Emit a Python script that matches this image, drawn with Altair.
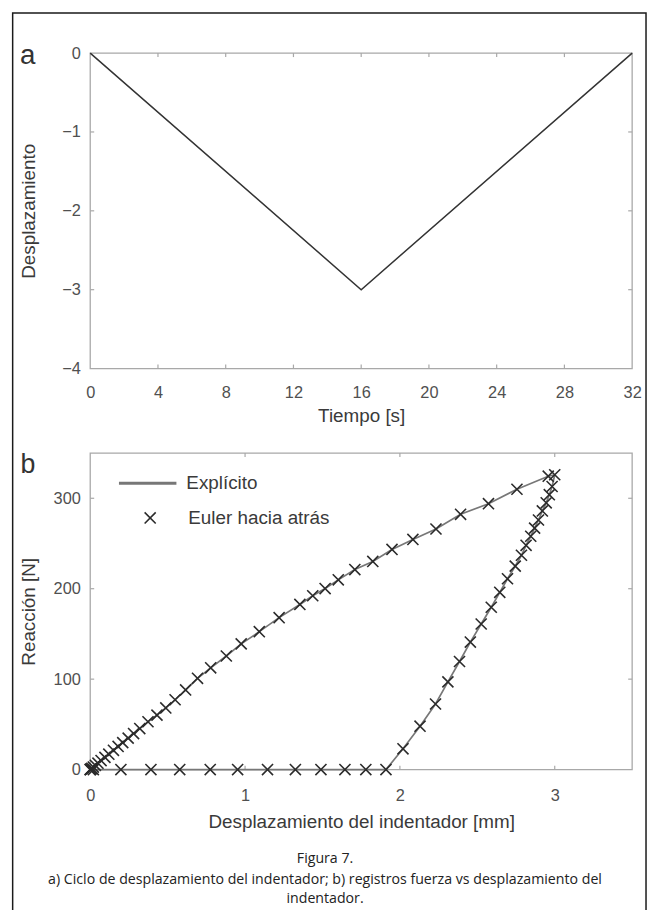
import altair as alt
import pandas as pd

# ---------------- data ----------------
# panel a : displacement cycle
tiempo = [0, 16, 32]
desplazamiento = [0, -3, 0]
ticks_tiempo = [0, 4, 8, 12, 16, 20, 24, 28, 32]
ticks_desplazamiento = [-4, -3, -2, -1, 0]

# panel b : reaction vs indenter displacement (backward Euler records)
carga_x = [0.0, 0.004, 0.01, 0.02, 0.033, 0.05, 0.07, 0.095, 0.12, 0.15, 0.18, 0.21,
           0.245, 0.28, 0.32, 0.373, 0.431, 0.488, 0.548, 0.616, 0.693, 0.778, 0.879,
           0.975, 1.092, 1.22, 1.354, 1.437, 1.517, 1.602, 1.709, 1.825, 1.949, 2.084,
           2.233, 2.392, 2.572, 2.756, 2.958, 3.0]
carga_y = [0, 0.6, 1.4, 2.8, 4.7, 7.1, 10, 13.5, 17, 21.3, 25.6, 29.8,
           34.8, 39.8, 45.4, 52.9, 60.2, 68.2, 77.2, 88.1, 100.9, 112.5, 125.6,
           139, 152.5, 168, 182.6, 192.2, 200.2, 209.8, 221.2, 230.2, 243.4, 254.5,
           266, 282.3, 294, 310, 324.4, 326]
descarga_x = [2.983, 2.965, 2.945, 2.92, 2.895, 2.87, 2.845, 2.815, 2.785, 2.745, 2.695,
              2.645, 2.59, 2.525, 2.455, 2.385, 2.31, 2.23, 2.13, 2.02, 1.91]
descarga_y = [313, 304, 295, 286, 276, 267, 258, 248, 237, 225, 211,
              196, 179.5, 161, 141, 119.5, 97, 72.5, 48, 23, 0]
cero_x = [1.78, 1.645, 1.49, 1.325, 1.145, 0.952, 0.775, 0.578, 0.392, 0.198, 0.02, 0.0]
cero_y = [0, 0, 0, 0, 0, 0, 0, 0, 0, 0, 0, 0]
ticks_indentador = [0, 1, 2, 3]
dominio_indentador = [0, 3.5]
ticks_reaccion = [0, 100, 200, 300]
dominio_reaccion = [0, 350]

serie_linea = "Explícito"
serie_marca = "Euler hacia atrás"
etiqueta_a = "a"
etiqueta_b = "b"
titulo_a_x = "Tiempo [s]"
titulo_a_y = "Desplazamiento"
titulo_b_x = "Desplazamiento del indentador [mm]"
titulo_b_y = "Reacción [N]"
titulo_figura = "Figura 7."
pie_figura = ["a) Ciclo de desplazamiento del indentador; b) registros fuerza vs desplazamiento del",
              "indentador."]

# ---------------- layout (page pixels) ----------------
W, H = 646, 902
OX, OY = 8, 8


def px(v):
    return v - OX


def py(v):
    return v - OY


A_X = [px(91), px(638)]
A_Y = [py(367.7), py(49.3)]
B_X = [px(91), px(638)]
B_Y = [py(772.5), py(453)]

FONT = "Liberation Sans"
CAP_FONT = "Open Sans"
TXT = "#3a3a3a"
LBL = "#505050"
FRAME = "#a8a8a8"
XPATH = "M-1,-1L1,1M-1,1L1,-1"
LBL_SIZE = 16.5


def axis_x(values, title, axis_y_abs, lp, tp):
    return alt.Axis(orient="bottom", offset=py(axis_y_abs) - H, values=values, title=title,
                    domain=False, ticks=False, tickSize=0, grid=False,
                    labelPadding=lp, titlePadding=tp, labelFlush=False, labelOverlap=False,
                    labelFont=FONT, labelFontSize=LBL_SIZE, labelColor=LBL,
                    titleFont=FONT, titleFontSize=19, titleFontWeight="normal", titleColor=TXT)


def axis_y(values, title, tp):
    return alt.Axis(orient="left", offset=-px(91), values=values, title=title,
                    domain=False, ticks=False, tickSize=0, grid=False,
                    labelPadding=10, titlePadding=tp, labelFlush=False, labelOverlap=False,
                    labelFont=FONT, labelFontSize=LBL_SIZE, labelColor=LBL,
                    titleFont=FONT, titleFontSize=19, titleFontWeight="normal", titleColor=TXT)


def tick_frame(xt, yt, xr, yr, x_range, y_range, length=4.0):
    dx = length * (xr[1] - xr[0]) / abs(x_range[1] - x_range[0])
    dy = length * (yr[1] - yr[0]) / abs(y_range[1] - y_range[0])
    rows = []
    for v in xt:
        if xr[0] < v < xr[1]:
            rows.append(dict(x=v, x2=v, y=yr[0], y2=yr[0] + dy))
            rows.append(dict(x=v, x2=v, y=yr[1], y2=yr[1] - dy))
    for v in yt:
        if yr[0] < v < yr[1]:
            rows.append(dict(x=xr[0], x2=xr[0] + dx, y=v, y2=v))
            rows.append(dict(x=xr[1], x2=xr[1] - dx, y=v, y2=v))
    return pd.DataFrame(rows)


def panel_frame(xr, yr, sx, sy):
    df = pd.DataFrame({"x0": [xr[0]], "x1": [xr[1]], "y0": [yr[0]], "y1": [yr[1]]})
    return alt.Chart(df).mark_rect(fillOpacity=0, stroke=FRAME, strokeWidth=1.3).encode(
        x=alt.X("x0:Q", scale=sx, axis=None), x2="x1:Q",
        y=alt.Y("y0:Q", scale=sy, axis=None), y2="y1:Q")


def panel_ticks(df, sx, sy):
    return alt.Chart(df).mark_rule(color=FRAME, strokeWidth=1.2).encode(
        x=alt.X("x:Q", scale=sx, axis=None), x2="x2:Q",
        y=alt.Y("y:Q", scale=sy, axis=None), y2="y2:Q")


# ---------------- panel a ----------------
xr_a = [ticks_tiempo[0], ticks_tiempo[-1]]
yr_a = [ticks_desplazamiento[0], ticks_desplazamiento[-1]]
sx_a = alt.Scale(domain=xr_a, range=A_X, nice=False, zero=False)
sy_a = alt.Scale(domain=yr_a, range=A_Y, nice=False, zero=False)

df_a = pd.DataFrame({"t": tiempo, "d": desplazamiento})
line_a = alt.Chart(df_a).mark_line(color="#333333", strokeWidth=1.5).encode(
    x=alt.X("t:Q", scale=sx_a, axis=axis_x(ticks_tiempo, titulo_a_x, 367.7, 16, 6)),
    y=alt.Y("d:Q", scale=sy_a, axis=axis_y(ticks_desplazamiento, titulo_a_y, 23)))
frame_a = panel_frame(xr_a, yr_a, sx_a, sy_a)
ticks_a = panel_ticks(tick_frame(ticks_tiempo, ticks_desplazamiento, xr_a, yr_a, A_X, A_Y), sx_a, sy_a)

# ---------------- panel b ----------------
xr_b = dominio_indentador
yr_b = dominio_reaccion
sx_b = alt.Scale(domain=xr_b, range=B_X, nice=False, zero=False)
sy_b = alt.Scale(domain=yr_b, range=B_Y, nice=False, zero=False)

bx = carga_x + descarga_x + cero_x
by = carga_y + descarga_y + cero_y
df_b = pd.DataFrame({"x": bx, "y": by, "orden": list(range(len(bx)))})
df_b["serie_linea"] = serie_linea
df_b["serie_marca"] = serie_marca

line_b = alt.Chart(df_b).mark_line(strokeWidth=1.7).encode(
    x=alt.X("x:Q", scale=sx_b, axis=axis_x(ticks_indentador, titulo_b_x, 772.5, 18.5, 8)),
    y=alt.Y("y:Q", scale=sy_b, axis=axis_y(ticks_reaccion, titulo_b_y, 15)),
    order="orden:Q",
    color=alt.Color("serie_linea:N",
                    scale=alt.Scale(domain=[serie_linea], range=["#777777"]),
                    legend=alt.Legend(orient="none", legendX=px(118.5), legendY=py(453),
                                      title=None, padding=0, symbolType="stroke",
                                      symbolSize=3364, symbolStrokeWidth=3,
                                      labelFont=FONT, labelFontSize=19, labelColor=TXT,
                                      labelOffset=8.5)))

pts_b = alt.Chart(df_b).mark_point(filled=False, size=125, strokeWidth=1.6,
                                   color="#2b2b2b", opacity=1).encode(
    x=alt.X("x:Q", scale=sx_b, axis=None),
    y=alt.Y("y:Q", scale=sy_b, axis=None),
    shape=alt.Shape("serie_marca:N",
                    scale=alt.Scale(domain=[serie_marca], range=[XPATH]),
                    legend=alt.Legend(orient="none", legendX=px(142), legendY=py(509),
                                      title=None, padding=0, symbolSize=125,
                                      symbolStrokeWidth=1.6, symbolStrokeColor="#2b2b2b",
                                      symbolFillColor="transparent",
                                      labelFont=FONT, labelFontSize=19, labelColor=TXT,
                                      labelOffset=29)))
frame_b = panel_frame(xr_b, yr_b, sx_b, sy_b)
ticks_b = panel_ticks(tick_frame(ticks_indentador, ticks_reaccion, xr_b, yr_b, B_X, B_Y), sx_b, sy_b)


# ---------------- annotations ----------------
def texto(txt, x, y, size, font, baseline="alphabetic", color=TXT):
    return alt.Chart(alt.Data(values=[{}])).mark_text(
        text=txt, font=font, fontSize=size, align="center", baseline=baseline, color=color
    ).encode(x=alt.value(x), y=alt.value(y))


borde = alt.Chart(alt.Data(values=[{}])).mark_rect(
    fillOpacity=0, stroke="#1a1a1a", strokeWidth=1.5).encode(
    x=alt.value(px(12.7)), x2=alt.value(px(652)), y=alt.value(0.75), y2=alt.value(H + 20))

CAP_SIZE = 14.3
anotaciones = [
    texto(etiqueta_a, px(28), py(60), 28, FONT, color="#333333"),
    texto(etiqueta_b, px(28), py(473.3), 27, FONT, color="#333333"),
    texto(titulo_figura, px(328), py(866.5), CAP_SIZE, CAP_FONT, color="#222222"),
    texto(pie_figura[0], px(328), py(887.5), CAP_SIZE, CAP_FONT, color="#222222"),
    texto(pie_figura[1], px(328), py(907.2), CAP_SIZE, CAP_FONT, color="#222222"),
]

chart = alt.layer(
    frame_a, ticks_a, line_a, frame_b, ticks_b, line_b, pts_b, borde, *anotaciones
).resolve_scale(
    x="independent", y="independent"
).resolve_axis(
    x="independent", y="independent"
).properties(
    width=W, height=H, padding=0, background="white",
    autosize=alt.AutoSizeParams(type="none")
).configure_view(strokeWidth=0)

chart.save("out.html", embed_options={"renderer": "svg", "actions": False})
